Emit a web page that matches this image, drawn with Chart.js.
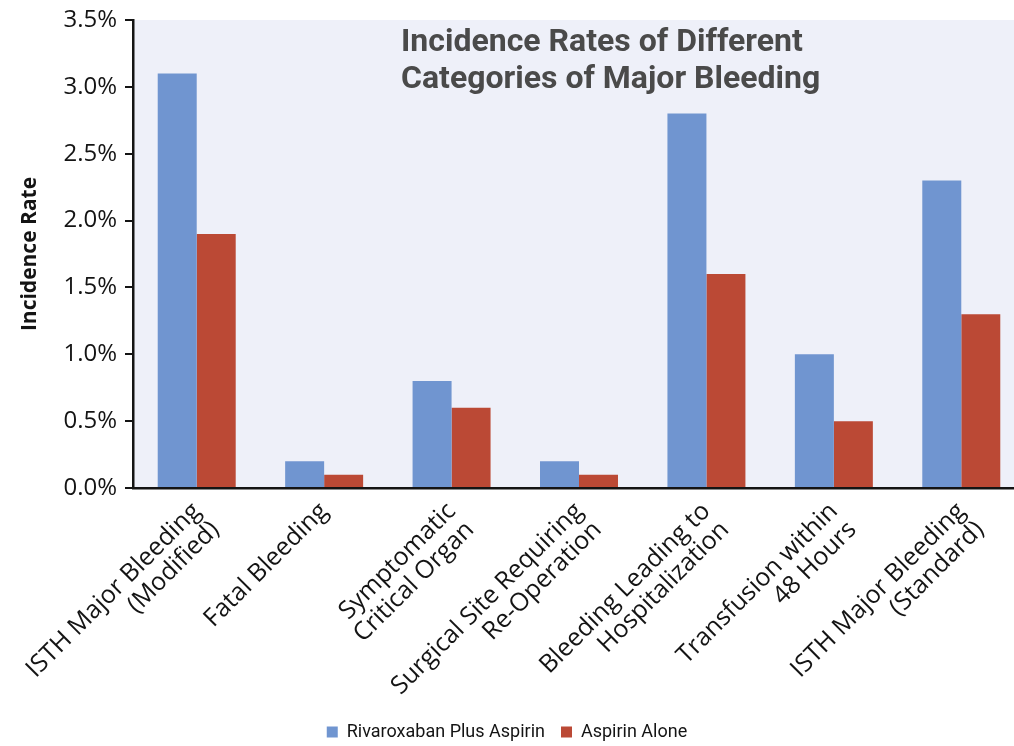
<!DOCTYPE html>
<html>
<head>
<meta charset="utf-8">
<script src="https://cdn.jsdelivr.net/npm/chart.js@4/dist/chart.umd.min.js"></script>
<style>
  html, body { margin: 0; padding: 0; background: #ffffff; overflow: hidden; }
  #wrap { width: 1014px; height: 746px; overflow: hidden; }
</style>
</head>
<body>
<div id="wrap"><canvas id="chart" width="1025" height="746"></canvas></div>
<script>
// Bleeding categories (multi-line labels)
const categories = [
  ['ISTH Major Bleeding', '(Modified)'],
  ['Fatal Bleeding'],
  ['Symptomatic', 'Critical Organ'],
  ['Surgical Site Requiring', 'Re-Operation'],
  ['Bleeding Leading to', 'Hospitalization'],
  ['Transfusion within', '48 Hours'],
  ['ISTH Major Bleeding', '(Standard)']
];
// Incidence rates, in percent
const rivaroxabanPlusAspirin = [3.1, 0.2, 0.8, 0.2, 2.8, 1.0, 2.3];
const aspirinAlone = [1.9, 0.1, 0.6, 0.1, 1.6, 0.5, 1.3];
const seriesNames = ['Rivaroxaban Plus Aspirin', 'Aspirin Alone'];
const titleLines = ['Incidence Rates of Different', 'Categories of Major Bleeding'];
const yAxisTitle = 'Incidence Rate';

const BLUE = '#7095d0';
const RED = '#bb4935';
const INK = '#141414';
const FONT = '"Open Sans", "Noto Sans", sans-serif';
const NARROW = 'Roboto, "DejaVu Sans Condensed", sans-serif';
const VISIBLE_WIDTH = 1014; // the plot runs slightly past the visible frame

// Light plot background plus the in-plot heading
const plotDecor = {
  id: 'plotDecor',
  afterLayout(chart) {
    // keep the legend centred on the visible frame
    const lg = chart.legend;
    if (lg) {
      const cut = chart.width - VISIBLE_WIDTH;
      lg.right -= cut;
      lg.width -= cut;
      if (lg.legendHitBoxes) lg.legendHitBoxes.forEach(b => { b.left -= cut / 2; });
    }
  },
  beforeDraw(chart) {
    const { ctx, chartArea: a } = chart;
    ctx.save();
    ctx.fillStyle = '#eef0f9';
    ctx.fillRect(a.left, a.top, a.right - a.left, a.bottom - a.top);
    ctx.restore();
  },
  afterDraw(chart) {
    const { ctx, chartArea: a } = chart;
    ctx.save();
    ctx.fillStyle = '#4a4a4a';
    ctx.font = 'bold 32px ' + NARROW;
    ctx.textAlign = 'left';
    ctx.textBaseline = 'alphabetic';
    titleLines.forEach((t, i) => ctx.fillText(t, a.left + 268, a.top + 31 + i * 37));
    ctx.restore();
  }
};

new Chart(document.getElementById('chart'), {
  type: 'bar',
  data: {
    labels: categories,
    datasets: [
      { label: seriesNames[0], data: rivaroxabanPlusAspirin, backgroundColor: BLUE },
      { label: seriesNames[1], data: aspirinAlone, backgroundColor: RED }
    ]
  },
  options: {
    responsive: false,
    animation: false,
    devicePixelRatio: 1,
    layout: { padding: { top: 20, right: 0, left: 0, bottom: -5 } },
    datasets: { bar: { categoryPercentage: 0.612, barPercentage: 1.0 } },
    plugins: {
      legend: {
        position: 'bottom',
        labels: {
          color: INK,
          font: { family: NARROW, size: 18 },
          boxWidth: 11,
          boxHeight: 11,
          padding: 16
        }
      },
      tooltip: { enabled: false }
    },
    scales: {
      x: {
        grid: { display: false },
        border: { display: true, color: INK, width: 2.5 },
        ticks: {
          color: INK,
          font: { family: FONT, size: 25, lineHeight: 1.05 },
          maxRotation: 45,
          minRotation: 45,
          autoSkip: false,
          padding: 2
        },
        afterFit(scale) {
          scale.height = 219;
          scale.paddingRight = 0;
        }
      },
      y: {
        min: 0,
        max: 3.5,
        grid: { display: true, drawOnChartArea: false, drawTicks: true, tickLength: 8, color: INK, lineWidth: 2 },
        border: { display: true, color: INK, width: 2.5 },
        ticks: {
          stepSize: 0.5,
          color: INK,
          font: { family: FONT, size: 24 },
          padding: 8,
          callback: v => v.toFixed(1) + '%'
        },
        title: {
          display: true,
          text: yAxisTitle,
          color: INK,
          font: { family: FONT, size: 21, weight: 'bold' },
          padding: { top: 17, bottom: 8 }
        },
        afterFit(scale) {
          scale.width = 133;
          scale.paddingTop = 0;
        }
      }
    }
  },
  plugins: [plotDecor]
});
</script>
</body>
</html>
